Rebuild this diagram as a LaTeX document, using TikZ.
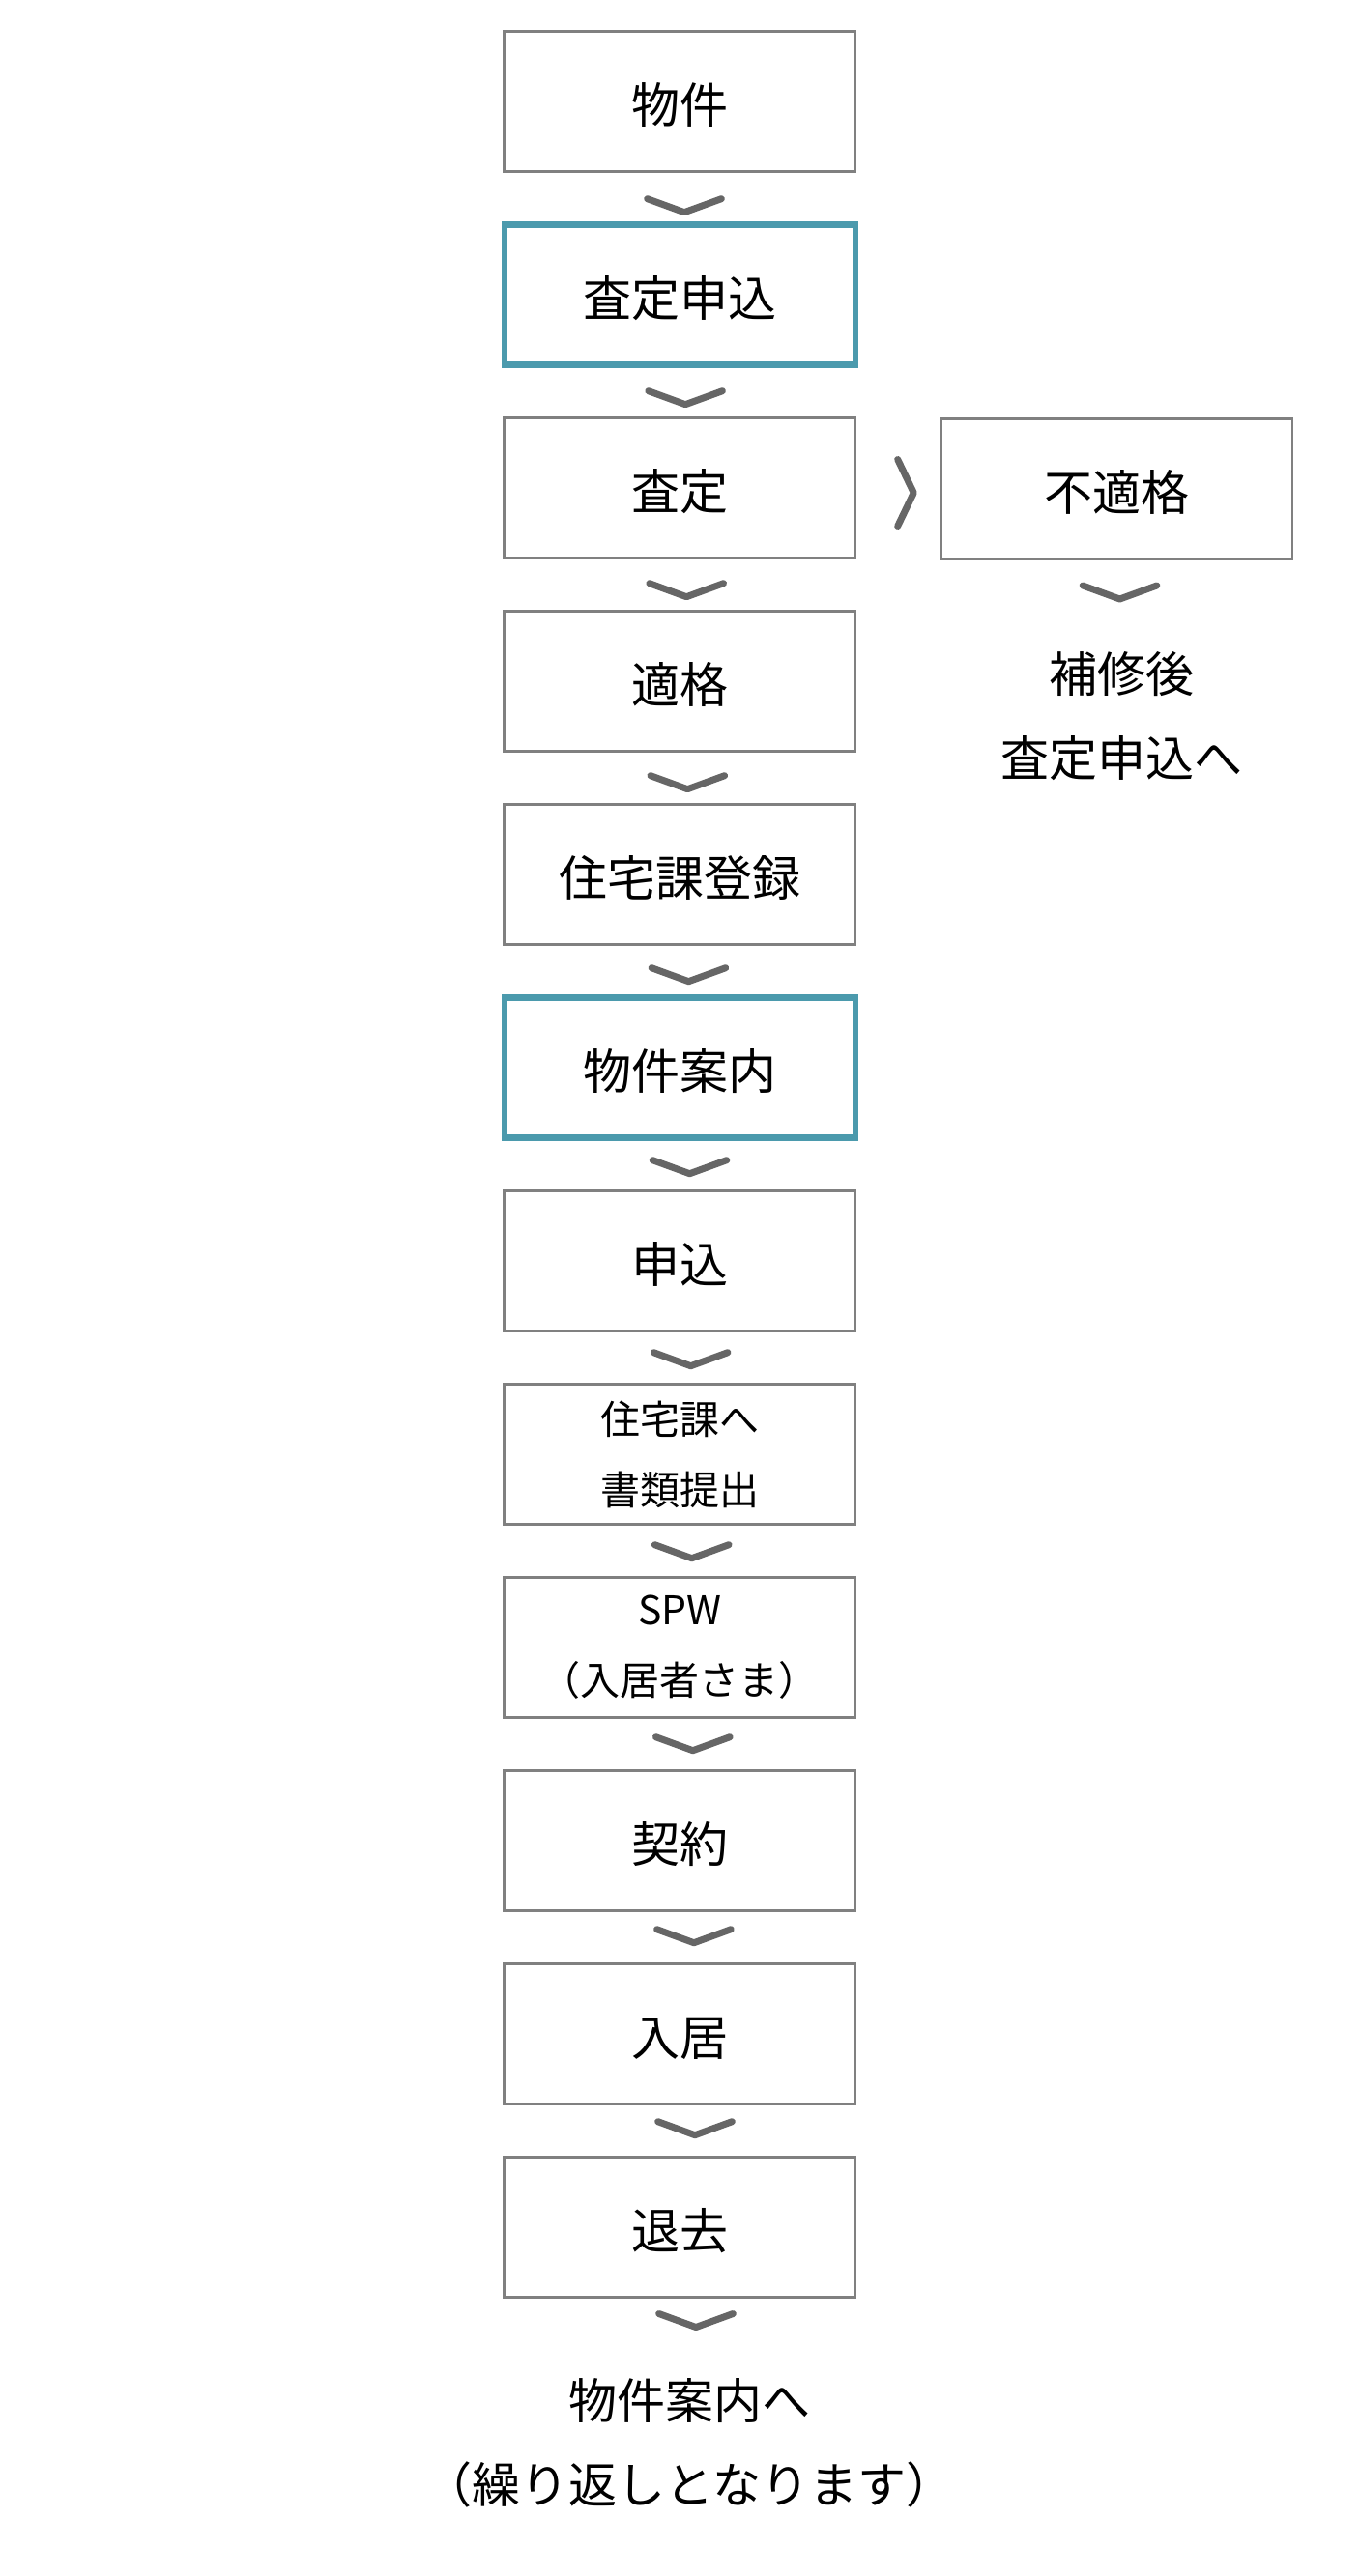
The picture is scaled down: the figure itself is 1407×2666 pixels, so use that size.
\documentclass[tikz,border=0pt]{standalone}
\usepackage{fontspec}
\setmainfont{Noto Sans CJK JP}
\definecolor{boxgray}{RGB}{128,128,128}
\definecolor{chevgray}{RGB}{102,102,102}
\definecolor{tealline}{RGB}{75,154,173}
\begin{document}
\begin{tikzpicture}[x=1pt,y=-1pt,
  box/.style={draw=boxgray,line width=2.7pt,minimum width=363pt,minimum height=145pt,
    inner sep=0pt,outer sep=0pt,text=black,text height=44pt,text depth=0pt,
    font=\fontsize{50pt}{60pt}\selectfont},
  hbox/.style={box,draw=tealline,line width=6.6pt},
  sbox/.style={box,align=center,text height=,text depth=,font=\fontsize{41pt}{73pt}\selectfont},
  freetext/.style={inner sep=0pt,align=center,text=black,font=\fontsize{50pt}{87pt}\selectfont},
  chevline/.style={draw=chevgray,line width=7pt,line cap=round,line join=round},
  chevdown/.pic={\draw[chevline] (-38.3,-7) -- (0,7) -- (38.3,-7);},
  chevright/.pic={\draw[chevline] (-8.3,-34.5) -- (8.3,0) -- (-8.3,34.5);}
]
\fill[white] (0,0) rectangle (1407,2666);
\useasboundingbox (0,0) rectangle (1407,2666);

% main column
\node[box]  (b1)  at (703.3,105)  {物件};
\node[hbox] (b2)  at (703.3,305)  {査定申込};
\node[box]  (b3)  at (703.3,505)  {査定};
\node[box]  (b4)  at (703.3,705)  {適格};
\node[box]  (b5)  at (703.3,905)  {住宅課登録};
\node[hbox] (b6)  at (703.3,1105) {物件案内};
\node[box]  (b7)  at (703.3,1305) {申込};
\node[sbox] (b8)  at (703.3,1505) {住宅課へ\\書類提出};
\node[sbox] (b9)  at (703.3,1705) {SPW\\（入居者さま）};
\node[box]  (b10) at (703.3,1905) {契約};
\node[box]  (b11) at (703.3,2105) {入居};
\node[box]  (b12) at (703.3,2305) {退去};
\node[freetext] (tend) at (713,2528) {物件案内へ\\（繰り返しとなります）};

% side branch
\node[box] (nf) at (1155.5,506) {不適格};
\node[freetext] (tnf) at (1160,741.5) {補修後\\査定申込へ};

% chevron connectors
\coordinate (c1)  at (708.0,212.7);
\coordinate (c2)  at (709.1,411.7);
\coordinate (c3)  at (710.2,610.7);
\coordinate (c4)  at (711.3,809.7);
\coordinate (c5)  at (712.4,1008.7);
\coordinate (c6)  at (713.5,1207.7);
\coordinate (c7)  at (714.6,1406.7);
\coordinate (c8)  at (715.7,1605.7);
\coordinate (c9)  at (716.8,1804.7);
\coordinate (c10) at (717.9,2003.7);
\coordinate (c11) at (719.0,2202.7);
\coordinate (c12) at (720.0,2401.5);
\coordinate (cr)  at (937,510);
\coordinate (cnf) at (1158.5,613);
\foreach \c in {c1,c2,c3,c4,c5,c6,c7,c8,c9,c10,c11,c12,cnf}
  \pic at (\c) {chevdown};
\pic at (cr) {chevright};
\end{tikzpicture}
\end{document}
